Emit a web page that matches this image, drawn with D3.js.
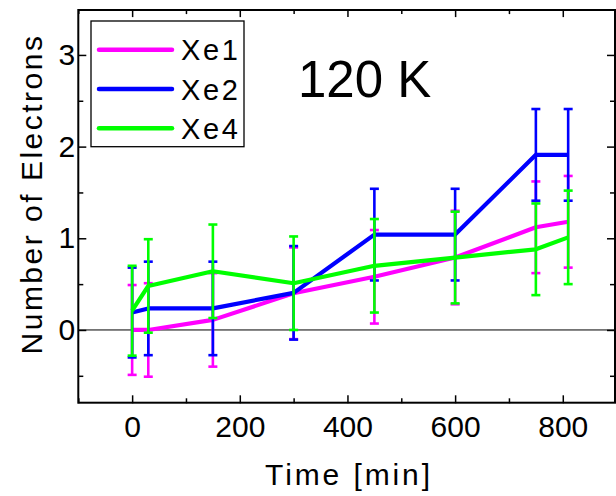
<!DOCTYPE html>
<html>
<head>
<meta charset="utf-8">
<script src="https://cdn.jsdelivr.net/npm/d3@7"></script>
<style>
  html, body { margin: 0; padding: 0; background: #fff; }
  svg { display: block; font-family: "Liberation Sans", Arial, Helvetica, sans-serif; }
</style>
</head>
<body>
<svg id="chart" width="616" height="496"></svg>
<script>
// ---- data ----
const timeMin = [0, 30, 150, 300, 450, 600, 750, 810];
const seriesNames = ["Xe1", "Xe2", "Xe4"];
const seriesColors = ["#ff00ff", "#0000ff", "#00ff00"];
const xe1 = [0.00, 0.00, 0.11, 0.40, 0.58, 0.79, 1.12, 1.18];
const xe1Err = [0.49, 0.51, 0.51, 0.50, 0.51, 0.51, 0.50, 0.50];
const xe2 = [0.19, 0.235, 0.235, 0.405, 1.04, 1.04, 1.91, 1.91];
const xe2Err = [0.49, 0.51, 0.51, 0.51, 0.50, 0.50, 0.50, 0.50];
const xe4 = [0.21, 0.48, 0.64, 0.51, 0.70, 0.79, 0.88, 1.01];
const xe4Err = [0.49, 0.51, 0.51, 0.51, 0.51, 0.50, 0.50, 0.51];
const xMajorTicks = [0, 200, 400, 600, 800];
const xMinorTicks = [-100, 100, 300, 500, 700];
const yMajorTicks = [0, 1, 2, 3];
const yMinorTicks = [-0.5, 0.5, 1.5, 2.5];
const titleText = "120 K";
const xTitle = "Time [min]";
const yTitle = "Number of Electrons";

const seriesValues = [xe1, xe2, xe4];
const seriesErrors = [xe1Err, xe2Err, xe4Err];

// ---- layout ----
const pLeft = 78.3, pRight = 615, pTop = 9.1, pBottom = 403.3;
const x = d3.scaleLinear().domain([-100, 897]).range([pLeft, pRight]);
const y = d3.scaleLinear().domain([-0.8, 3.5]).range([pBottom, pTop]);

const svg = d3.select("#chart");
const font = "'Liberation Sans', Arial, Helvetica, sans-serif";

// zero line
svg.append("line")
  .attr("x1", pLeft).attr("x2", pRight)
  .attr("y1", y(0)).attr("y2", y(0))
  .attr("stroke", "#000").attr("stroke-width", 1);

// axes (inward ticks)
function styleAxis(g) {
  g.select(".domain").remove();
  g.selectAll(".tick line").attr("stroke", "#000").attr("stroke-width", 1.5);
  g.selectAll(".tick text").attr("fill", "#000").style("font-family", font).style("font-size", "30px");
}
svg.append("g").attr("transform", `translate(0,${pBottom})`)
  .call(d3.axisBottom(x).tickValues(xMajorTicks).tickSize(-8).tickPadding(12).tickFormat(d3.format("d")))
  .call(styleAxis);
svg.append("g").attr("transform", `translate(0,${pBottom})`)
  .call(d3.axisBottom(x).tickValues(xMinorTicks).tickSize(-5).tickFormat(""))
  .call(styleAxis);
svg.append("g").attr("transform", `translate(0,${pTop})`)
  .call(d3.axisTop(x).tickValues(xMajorTicks).tickSize(-8).tickFormat(""))
  .call(styleAxis);
svg.append("g").attr("transform", `translate(0,${pTop})`)
  .call(d3.axisTop(x).tickValues(xMinorTicks).tickSize(-5).tickFormat(""))
  .call(styleAxis);
svg.append("g").attr("transform", `translate(${pLeft},0)`)
  .call(d3.axisLeft(y).tickValues(yMajorTicks).tickSize(-8).tickPadding(3).tickFormat(d3.format("d")))
  .call(styleAxis);
svg.append("g").attr("transform", `translate(${pLeft},0)`)
  .call(d3.axisLeft(y).tickValues(yMinorTicks).tickSize(-5).tickFormat(""))
  .call(styleAxis);
svg.append("g").attr("transform", `translate(${pRight},0)`)
  .call(d3.axisRight(y).tickValues(yMajorTicks).tickSize(-8).tickFormat(""))
  .call(styleAxis);
svg.append("g").attr("transform", `translate(${pRight},0)`)
  .call(d3.axisRight(y).tickValues(yMinorTicks).tickSize(-5).tickFormat(""))
  .call(styleAxis);

// series
const line = d3.line().x((d, i) => x(timeMin[i])).y(d => y(d));
const capW = 4.5;
seriesValues.forEach((vals, s) => {
  const color = seriesColors[s];
  const errs = seriesErrors[s];
  const g = svg.append("g");
  vals.forEach((v, i) => {
    const cx = x(timeMin[i]);
    const y1 = y(v + errs[i]), y2 = y(v - errs[i]);
    g.append("line").attr("x1", cx).attr("x2", cx).attr("y1", y1).attr("y2", y2)
      .attr("stroke", color).attr("stroke-width", 2.6);
    [y1, y2].forEach(yy => {
      g.append("line").attr("x1", cx - capW).attr("x2", cx + capW).attr("y1", yy).attr("y2", yy)
        .attr("stroke", color).attr("stroke-width", 2.6);
    });
  });
  g.append("path").datum(vals).attr("d", line)
    .attr("fill", "none").attr("stroke", color).attr("stroke-width", 4.2)
    .attr("stroke-linejoin", "round");
});

// frame
svg.append("rect")
  .attr("x", pLeft).attr("y", pTop + 0.9)
  .attr("width", pRight - pLeft).attr("height", pBottom - pTop - 1.5)
  .attr("fill", "none").attr("stroke", "#000").attr("stroke-width", 2);

// legend
const legX = 91, legY = 21;
svg.append("rect").attr("x", legX).attr("y", legY).attr("width", 153).attr("height", 125.7)
  .attr("fill", "#fff").attr("stroke", "#000").attr("stroke-width", 1.3);
seriesNames.forEach((name, s) => {
  const ly = 49.7 + s * 39.3;
  svg.append("line").attr("x1", 99).attr("x2", 172).attr("y1", ly).attr("y2", ly)
    .attr("stroke", seriesColors[s]).attr("stroke-width", 4.5).attr("stroke-linecap", "round");
  svg.append("text").attr("x", 181).attr("y", ly + 10.5)
    .style("font-size", "29px").style("letter-spacing", "2.6px").attr("fill", "#000")
    .text(name);
});

// title
svg.append("text").attr("x", 298).attr("y", 97)
  .style("font-size", "51px").attr("fill", "#000").text(titleText);

// axis titles
svg.append("text").attr("x", 349).attr("y", 485).attr("text-anchor", "middle")
  .style("font-size", "30px").style("letter-spacing", "2.9px").attr("fill", "#000").text(xTitle);
svg.append("text").attr("transform", "translate(41.5,194) rotate(-90)").attr("text-anchor", "middle")
  .style("font-size", "30px").style("letter-spacing", "2.5px").attr("fill", "#000").text(yTitle);
</script>
</body>
</html>
